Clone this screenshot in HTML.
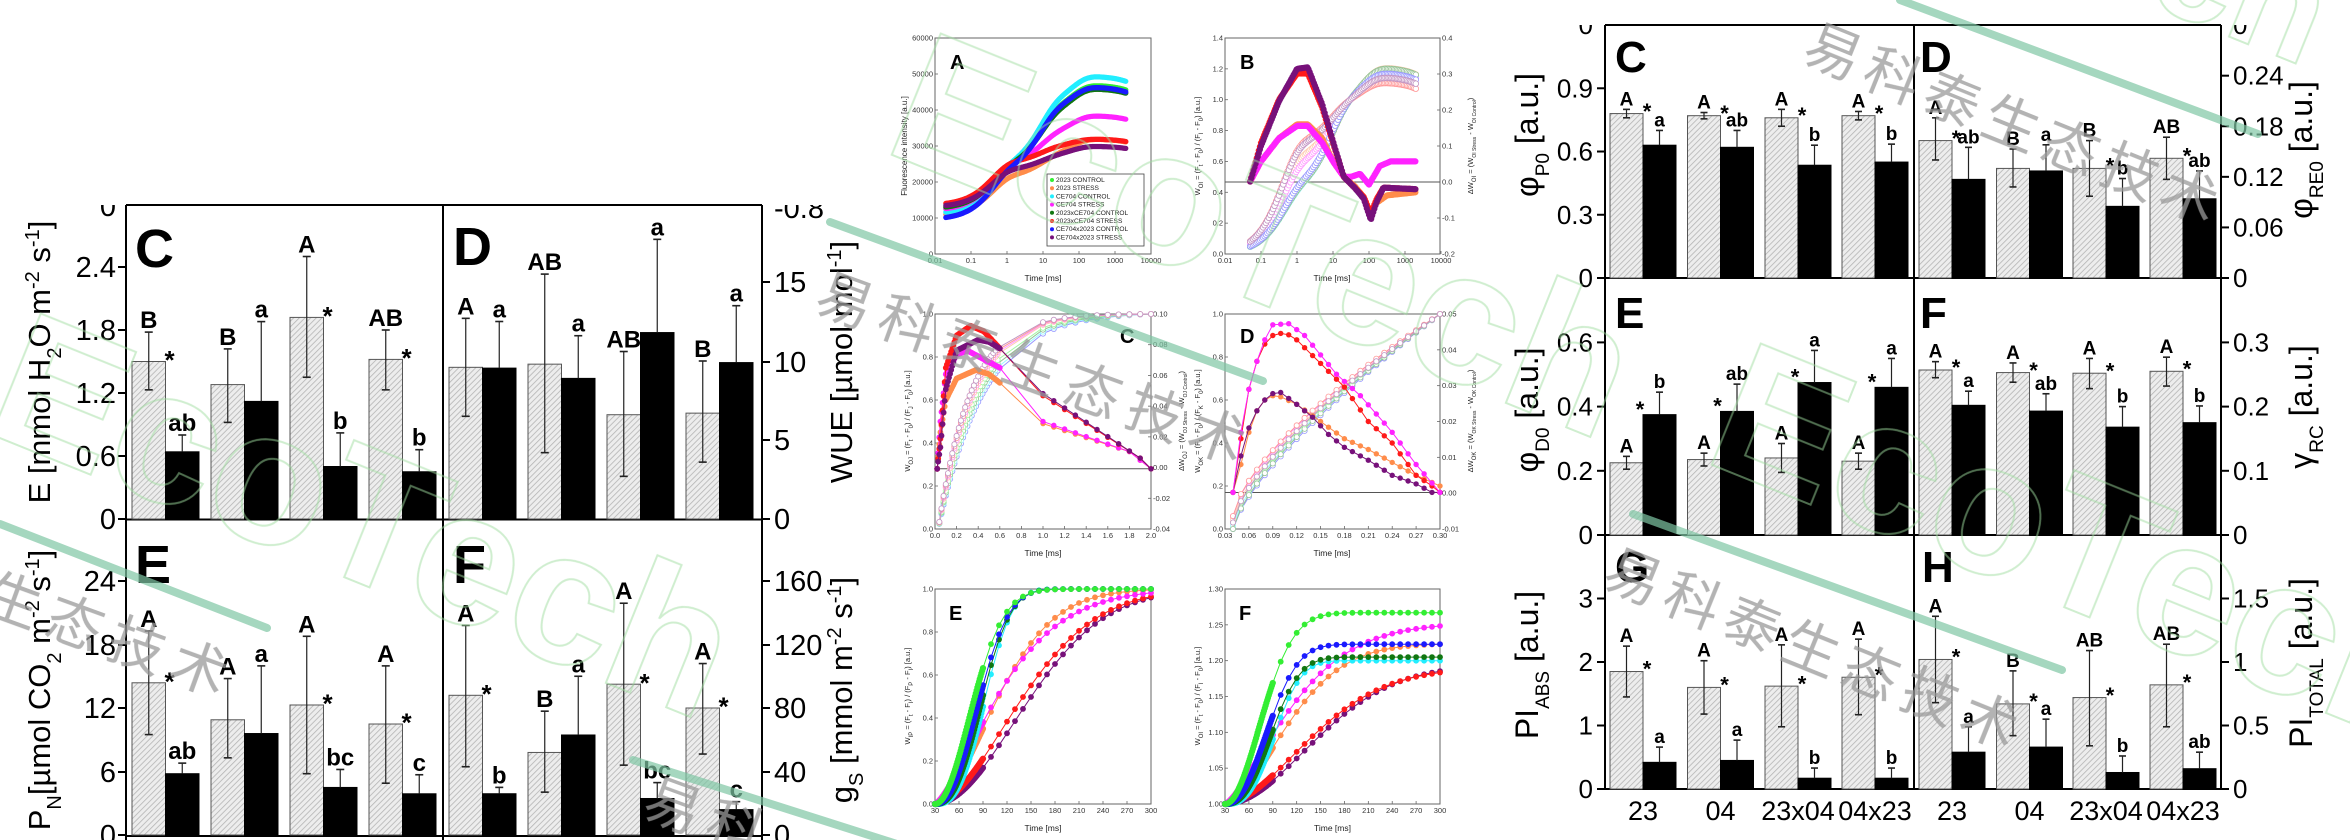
<!DOCTYPE html>
<html><head><meta charset="utf-8">
<style>html,body{margin:0;padding:0;background:#fff}svg{display:block}</style>
</head><body>
<svg id="s" xmlns="http://www.w3.org/2000/svg" width="2350" height="840" viewBox="0 0 2350 840" font-family="Liberation Sans, Arial, sans-serif">
<defs>
<pattern id="h" width="4" height="4" patternUnits="userSpaceOnUse" patternTransform="rotate(45)"><rect width="4" height="4" fill="#ededed"/><line x1="0" y1="0" x2="0" y2="4" stroke="#b4b4b4" stroke-width="1.6"/></pattern>
<clipPath id="cl1"><rect x="0" y="205" width="2350" height="640"/></clipPath>
<clipPath id="cl2"><rect x="0" y="25" width="2350" height="820"/></clipPath>
</defs>
<rect width="2350" height="840" fill="#fff"/>
<g id="g"></g>
</svg>
<script>
let o='';
function T(x,y,s,sz,ex){o+=`<text x="${x}" y="${y}" font-size="${sz}" ${ex||''}>${s}</text>`;}
function L(x1,y1,x2,y2,w,c){o+=`<line x1="${x1}" y1="${y1}" x2="${x2}" y2="${y2}" stroke="${c||'#000'}" stroke-width="${w||1}"/>`;}
function R(x,y,w,h,f,s,sw){o+=`<rect x="${x}" y="${y}" width="${w}" height="${h}" fill="${f}" stroke="${s||'none'}" stroke-width="${sw||1}"/>`;}
const M='text-anchor="middle"', E='text-anchor="end"', B='font-weight="bold"';

function bars(p){
 p.data.forEach((d,i)=>{
  const [g,gl,gh,b,bh,gL,st,bL]=d; const gx=p.xs[i], bx=gx+p.bw;
  const yg=p.y0-g*p.k, yb=p.y0-b*p.k;
  R(gx,yg,p.bw,g*p.k,'url(#h)','#555',1);
  R(bx,yb,p.bw,b*p.k,'#000','#000',1);
  const cx=gx+p.bw/2, ygh=p.y0-gh*p.k, ygl=p.y0-gl*p.k;
  L(cx,ygh,cx,ygl,1.2,'#222');L(cx-p.cap,ygh,cx+p.cap,ygh,1.6,'#222');L(cx-p.cap,ygl,cx+p.cap,ygl,1.6,'#222');
  const bc=bx+p.bw/2, ybh=p.y0-bh*p.k;
  L(bc,ybh,bc,yb,1.2,'#222');L(bc-p.cap,ybh,bc+p.cap,ybh,1.6,'#222');
  T(cx,ygh-4,gL,p.ls,M+' '+B);
  T(bc,ybh-4,bL,p.ls,M+' '+B);
  if(st){ if(p.mode=='b') T(bx-3,yb-11+0.6*p.ss,'*',p.ss,M+' '+B); else T(gx+p.bw+4,yg-8+0.6*p.ss,'*',p.ss,M+' '+B);}
 });
}
function sub(s,sz){return `<tspan baseline-shift="sub" font-size="${sz}">${s}</tspan>`;}
function sup(s,sz){return `<tspan baseline-shift="super" font-size="${sz}">${s}</tspan>`;}
function VT(x,y,content,sz,ex){o+=`<text transform="translate(${x},${y}) rotate(-90)" text-anchor="middle" font-size="${sz}" ${ex||''}>${content}</text>`;}

/* ================= LEFT FIGURE ================= */
L(126,205,762,205,2);L(126,205,126,840,2);L(443,205,443,840,2);L(762,205,762,840,2);L(126,519.5,762,519.5,2);L(126,836,762,836,2);
[[0,519],[0.6,456],[1.2,393],[1.8,330],[2.4,267]].forEach(([v,y])=>{L(118,y,126,y,2);T(116,y+10,String(v),29,E);});
o+='<g clip-path="url(#cl1)">';T(116,216,'0',29,E);T(774,218,'-0.8',29);o+='</g>';
[[0,835],[6,772],[12,708],[18,645],[24,581]].forEach(([v,y])=>{L(118,y,126,y,2);T(116,y+10,String(v),29,E);});
[[0,519],[5,440],[10,362],[15,282]].forEach(([v,y])=>{L(762,y,770,y,2);T(774,y+10,String(v),29);});
[[0,835],[40,772],[80,708],[120,645],[160,581]].forEach(([v,y])=>{L(762,y,770,y,2);T(774,y+10,String(v),29);});
VT(50,362,'E [mmol H'+sub('2',20)+'O m'+sup('-2',20)+' s'+sup('-1',20)+']',31);
VT(50,690,'P'+sub('N',20)+'[µmol CO'+sub('2',20)+' m'+sup('-2',20)+' s'+sup('-1',20)+']',31);
VT(852,362,'WUE [µmol mol'+sup('-1',20)+']',31);
VT(852,690,'g'+sub('S',20)+' [mmol m'+sup('-2',20)+' s'+sup('-1',20)+']',31);
T(135,267,'C',54,B);T(453,265,'D',54,B);T(135,583,'E',54,B);T(453,583,'F',54,B);
const xsL=[132,211,290,369], xsD=[449,528,607,686];
bars({xs:xsL,bw:33.5,y0:519,k:105,cap:4,ls:24,ss:26,mode:'g',data:[
 [1.50,1.23,1.78,0.64,0.80,'B',1,'ab'],[1.28,0.92,1.62,1.12,1.88,'B',0,'a'],[1.92,1.35,2.50,0.50,0.82,'A',1,'b'],[1.52,1.23,1.80,0.45,0.66,'AB',1,'b']]});
bars({xs:xsD,bw:33.5,y0:519,k:15.8,cap:4,ls:24,ss:26,mode:'g',data:[
 [9.6,6.5,12.7,9.55,12.5,'A',0,'a'],[9.8,4.2,15.5,8.9,11.6,'AB',0,'a'],[6.6,2.7,10.6,11.8,17.7,'AB',0,'a'],[6.7,3.6,10.0,9.9,13.5,'B',0,'a']]});
bars({xs:xsL,bw:33.5,y0:835,k:10.57,cap:4,ls:24,ss:26,mode:'g',data:[
 [14.4,9.5,19.3,5.8,6.8,'A',1,'ab'],[10.9,7.3,14.8,9.6,16.0,'A',0,'a'],[12.3,5.8,18.8,4.5,6.2,'A',1,'bc'],[10.5,4.9,16.0,3.9,5.7,'A',1,'c']]});
bars({xs:xsD,bw:33.5,y0:835,k:1.5875,cap:4,ls:24,ss:26,mode:'g',data:[
 [88,43,132,26,30,'A',1,'b'],[52,27,78,63,100,'B',0,'a'],[95,44,146,23,33,'A',1,'bc'],[80,51,108,16,21,'A',1,'c']]});

/* ================= RIGHT FIGURE ================= */
L(1605,25,2221,25,2);L(1605,25,1605,789,2);L(1914,25,1914,789,2);L(2221,25,2221,789,2);
L(1605,278,2221,278,2);L(1605,535,2221,535,2);L(1605,789,2221,789,2);
function ytL(vals,y0,k){vals.forEach(v=>{const y=y0-v*k;L(1597,y,1605,y,2);T(1593,y+9,String(v),26,E);});}
function ytR(vals,y0,k){vals.forEach(v=>{const y=y0-v*k;L(2221,y,2229,y,2);T(2233,y+9,String(v),26);});}
ytL([0,0.3,0.6,0.9],278,210.8);ytL([0,0.2,0.4,0.6],535,321);ytL([0,1,2,3],789,63.5);
ytR([0,0.06,0.12,0.18,0.24],278,843);ytR([0,0.1,0.2,0.3],535,642);ytR([0,0.5,1,1.5],789,127);
o+='<g clip-path="url(#cl2)">';T(1593,34,'0',26,E);T(2233,34,'0',26);o+='</g>';
VT(1538,135,'φ'+sub('P0',19)+' [a.u.]',32);
VT(1538,410,'φ'+sub('D0',19)+' [a.u.]',32);
VT(1538,665,'PI'+sub('ABS',19)+' [a.u.]',32);
VT(2312,150,'φ'+sub('RE0',19)+' [a.u.]',32);
VT(2312,407,'γ'+sub('RC',19)+' [a.u.]',32);
VT(2312,663,'PI'+sub('TOTAL',19)+' [a.u.]',32);
T(1615,72,'C',44,B);T(1920,72,'D',44,B);T(1615,328,'E',44,B);T(1920,328,'F',44,B);T(1615,582,'G',44,B);T(1922,582,'H',44,B);
const xsC=[1610,1687.5,1765,1842], xsR=[1919,1996.5,2073,2150];
['23','04','23x04','04x23'].forEach((s,i)=>{T(xsC[i]+33,820,s,27,M);T(xsR[i]+33,820,s,27,M);});
bars({xs:xsC,bw:33,y0:278,k:210.8,cap:3.5,ls:19,ss:22,mode:'g',data:[
 [0.78,0.76,0.80,0.63,0.70,'A',1,'a'],[0.77,0.755,0.785,0.62,0.70,'A',1,'ab'],[0.76,0.72,0.80,0.535,0.63,'A',1,'b'],[0.77,0.75,0.79,0.55,0.635,'A',1,'b']]});
bars({xs:xsR,bw:33,y0:278,k:843,cap:3.5,ls:19,ss:22,mode:'g',data:[
 [0.163,0.14,0.19,0.117,0.155,'A',1,'ab'],[0.13,0.108,0.153,0.127,0.158,'B',0,'a'],[0.13,0.097,0.163,0.085,0.118,'B',1,'b'],[0.142,0.117,0.167,0.094,0.127,'AB',1,'ab']]});
bars({xs:xsC,bw:33,y0:535,k:321,cap:3.5,ls:19,ss:22,mode:'b',data:[
 [0.225,0.205,0.245,0.375,0.445,'A',1,'b'],[0.235,0.215,0.255,0.385,0.47,'A',1,'ab'],[0.24,0.195,0.285,0.475,0.575,'A',1,'a'],[0.23,0.205,0.255,0.46,0.55,'A',1,'a']]});
bars({xs:xsR,bw:33,y0:535,k:642,cap:3.5,ls:19,ss:22,mode:'g',data:[
 [0.257,0.245,0.27,0.202,0.224,'A',1,'a'],[0.253,0.238,0.268,0.193,0.22,'A',1,'ab'],[0.252,0.228,0.275,0.168,0.2,'A',1,'b'],[0.255,0.232,0.277,0.175,0.201,'A',1,'b']]});
bars({xs:xsC,bw:33,y0:789,k:63.5,cap:3.5,ls:19,ss:22,mode:'g',data:[
 [1.85,1.45,2.25,0.42,0.66,'A',1,'a'],[1.6,1.18,2.02,0.45,0.77,'A',1,'a'],[1.62,0.98,2.27,0.17,0.33,'A',1,'b'],[1.76,1.17,2.36,0.17,0.33,'A',1,'b']]});
bars({xs:xsR,bw:33,y0:789,k:127,cap:3.5,ls:19,ss:22,mode:'g',data:[
 [1.02,0.68,1.36,0.29,0.49,'A',1,'a'],[0.67,0.42,0.93,0.33,0.55,'B',1,'a'],[0.72,0.34,1.09,0.13,0.26,'AB',1,'b'],[0.82,0.49,1.14,0.16,0.29,'AB',1,'ab']]});

/* ================= MIDDLE PLOTS ================= */
const col={g:'#33ee33',o:'#ff8c4a',c:'#22eeff',m:'#ff22ff',dg:'#117711',r:'#ff1a1a',b:'#1a1aff',p:'#77117a'};
function light(h){const n=parseInt(h.slice(1),16);let r=n>>16,g=(n>>8)&255,b=n&255;r=Math.round(r+(255-r)*0.55);g=Math.round(g+(255-g)*0.55);b=Math.round(b+(255-b)*0.55);return `rgb(${r},${g},${b})`;}
function frame(x0,y0,x1,y1){o+=`<rect x="${x0}" y="${y0}" width="${x1-x0}" height="${y1-y0}" fill="none" stroke="#666" stroke-width="1"/>`;}
function xt(x,yb,lab){L(x,yb,x,yb-3,0.8,'#666');T(x,yb+9,lab,7.5,M+' fill="#333"');}
function ytl(xl,y,lab){L(xl,y,xl+3,y,0.8,'#666');T(xl-2,y+2.5,lab,7.5,E+' fill="#333"');}
function ytr(xr,y,lab){L(xr-3,y,xr,y,0.8,'#666');T(xr+2,y+2.5,lab,7.5,'fill="#333"');}
function poly(pts,c,w){o+=`<polyline points="${pts.map(p=>p[0].toFixed(1)+','+p[1].toFixed(1)).join(' ')}" fill="none" stroke="${c}" stroke-width="${w||1}"/>`;}
function dots(pts,r,fill,stroke){pts.forEach(p=>{o+=`<circle cx="${p[0].toFixed(1)}" cy="${p[1].toFixed(1)}" r="${r}" fill="${fill}"${stroke?` stroke="${stroke}" stroke-width="0.8"`:''}/>`;});}
function interp(arr,x){if(x<=arr[0][0])return arr[0][1];for(let i=1;i<arr.length;i++){if(x<=arr[i][0]){const a=arr[i-1],b=arr[i];return a[1]+(b[1]-a[1])*(x-a[0])/(b[0]-a[0]);}}return arr[arr.length-1][1];}

const AX0=935,AX1=1151,AY0=38,AY1=254;
frame(AX0,AY0,AX1,AY1);
const lx=(t,x0)=>x0+(Math.log10(t)+2)*36;
['0.01','0.1','1','10','100','1000','10000'].forEach((s,i)=>xt(AX0+i*36,AY1,s));
for(let v=0;v<=60000;v+=10000)ytl(AX0,AY1-v/60000*216,String(v));
const Aser=[['g',12000,23000,38000,47000],['o',10500,21000,26000,32000],['c',11000,23000,40000,49500],['m',12000,24000,32000,38500],['dg',12500,23000,37000,46000],['r',13500,25000,29000,32000],['b',9500,22000,38000,46500],['p',13000,23000,26500,30000]];
function Fm(s,t){const [k,F0,Fj,Fi,Fmx]=s;return F0+(Fj-F0)*(1-Math.exp(-t/0.4))+(Fi-Fj)*(1-Math.exp(-t/8))+(Fmx-Fi)*(1-Math.exp(-t/60))-(Fmx-F0)*0.04*(t/2000);}
Aser.forEach(s=>{const pts=[];for(let lt=Math.log10(0.02);lt<=Math.log10(2000);lt+=0.025){const t=Math.pow(10,lt);pts.push([lx(t,AX0),AY1-Fm(s,t)/60000*216]);}dots(pts,2.6,col[s[0]]);});
o+=`<rect x="1047" y="174" width="97" height="72" fill="#fff" stroke="#444" stroke-width="0.8"/>`;
['2023 CONTROL','2023 STRESS','CE704 CONTROL','CE704 STRESS','2023xCE704 CONTROL','2023xCE704 STRESS','CE704x2023 CONTROL','CE704x2023 STRESS'].forEach((s,i)=>{const y=182+i*8.2;o+=`<circle cx="1052" cy="${y-2}" r="2" fill="${col[Aser[i][0]]}"/>`;T(1056,y,s,6.6,'fill="#222"');});
VT(907,146,'Fluorescence intensity [a.u.]',8,'fill="#222"');
T(1043,281,'Time [ms]',8.5,M+' fill="#222"');
T(950,69,'A',20,B);

const BX0=1225,BX1=1440;
frame(BX0,AY0,BX1,AY1);
['0.01','0.1','1','10','100','1000','10000'].forEach((s,i)=>xt(BX0+i*36,AY1,s));
for(let i=0;i<=7;i++)ytl(BX0,AY1-i*0.2/1.4*216,(i*0.2).toFixed(1));
[-0.2,-0.1,0,0.1,0.2,0.3,0.4].forEach(v=>ytr(BX1,AY1-(v+0.2)/0.6*216,v.toFixed(1)));
const BY=v=>AY1-v/1.4*216;
L(BX0,182,BX1,182,1,'#555');
Aser.forEach(s=>{const F0=s[1],F30=Fm(s,30);const pts=[];for(let lt=Math.log10(0.05);lt<=Math.log10(2000);lt+=0.04){const t=Math.pow(10,lt);pts.push([lx(t,BX0),BY((Fm(s,t)-F0)/(F30-F0))]);}dots(pts,2.8,'#fff',light(col[s[0]]));});
const Bd={r:[[-1.3,0.47],[-1,0.72],[-0.5,1.0],[0,1.17],[0.3,1.17],[0.7,0.95],[1,0.72],[1.3,0.5],[1.6,0.43],[1.85,0.37],[2.05,0.26],[2.2,0.35],[2.4,0.43],[3.3,0.42]],
o:[[-1.3,0.47],[-1,0.6],[-0.5,0.75],[0,0.84],[0.3,0.84],[0.7,0.75],[1,0.6],[1.3,0.5],[1.6,0.44],[1.85,0.37],[2.05,0.26],[2.2,0.33],[2.5,0.38],[3.3,0.4]],
m:[[-1.3,0.47],[-1,0.6],[-0.5,0.75],[0,0.83],[0.3,0.83],[0.7,0.72],[1,0.6],[1.3,0.5],[1.5,0.5],[1.75,0.52],[2.0,0.45],[2.3,0.57],[2.6,0.6],[3.3,0.6]],
p:[[-1.3,0.47],[-1,0.7],[-0.5,0.99],[0,1.2],[0.3,1.21],[0.7,0.97],[1,0.73],[1.3,0.5],[1.6,0.43],[1.85,0.36],[2.05,0.22],[2.2,0.33],[2.4,0.43],[3.3,0.42]]};
['o','m','r','p'].forEach(k=>{const pts=[];for(let lt=-1.3;lt<=3.3;lt+=0.03)pts.push([BX0+(lt+2)*36,BY(interp(Bd[k],lt))]);dots(pts,3.1,col[k]);});
VT(1200,146,'W'+sub('OI',6)+' = (F'+sub('t',6)+' - F'+sub('0',6)+') / (F'+sub('I',6)+' - F'+sub('0',6)+') [a.u.]',7.5,'fill="#222"');
VT(1473,146,'ΔW'+sub('OI',6)+' = (W'+sub('OI Stress',5)+' - W'+sub('OI Control',5)+')',7.5,'fill="#222"');
T(1332,281,'Time [ms]',8.5,M+' fill="#222"');
T(1240,69,'B',20,B);

const CY0=314,CY1=529;
frame(AX0,CY0,AX1,CY1);
for(let i=0;i<=10;i++)xt(AX0+i*21.6,CY1,(i*0.2).toFixed(1));
for(let i=0;i<=5;i++)ytl(AX0,CY1-i*0.2*215,(i*0.2).toFixed(1));
[-0.04,-0.02,0,0.02,0.04,0.06,0.08,0.10].forEach(v=>ytr(AX1,CY1-(v+0.04)/0.14*215,v.toFixed(2)));
const CX=t=>AX0+t/2*216, CYv=v=>CY1-v*215;
L(AX0,CYv(0.28),AX1,CYv(0.28),1,'#555');
[['b',0.42],['c',0.4],['dg',0.38],['g',0.36],['o',0.33],['m',0.32],['r',0.31],['p',0.3]].forEach(([k,tau])=>{const f=t=>(1-Math.exp(-(t-0.03)/tau))/(1-Math.exp(-1.97/tau));const pts=[];for(let t=0.04;t<=0.6;t+=0.02)pts.push([CX(t),CYv(f(t))]);for(let t=1.0;t<=2.001;t+=0.1)pts.push([CX(t),CYv(f(t))]);poly(pts,light(col[k]),1);dots(pts,2.6,'#fff',light(col[k]));});
const Cd={r:[[0.02,0.28],[0.05,0.42],[0.1,0.75],[0.2,0.9],[0.33,0.945],[0.45,0.92],[0.6,0.84],[1.0,0.62],[1.9,0.33],[2.0,0.28]],
p:[[0.02,0.28],[0.05,0.38],[0.1,0.65],[0.2,0.83],[0.4,0.88],[0.5,0.87],[0.6,0.84],[1.0,0.63],[1.9,0.33],[2.0,0.28]],
m:[[0.02,0.28],[0.05,0.5],[0.1,0.72],[0.2,0.81],[0.3,0.83],[0.45,0.79],[0.6,0.75],[1.0,0.5],[1.8,0.36],[2.0,0.28]],
o:[[0.02,0.28],[0.05,0.45],[0.1,0.6],[0.2,0.7],[0.38,0.74],[0.5,0.72],[0.6,0.68],[1.0,0.49],[1.8,0.36],[2.0,0.28]]};
['o','m','r','p'].forEach(k=>{const dense=[],sp=[];for(let t=0.02;t<=0.601;t+=0.01)dense.push([CX(t),CYv(interp(Cd[k],t))]);for(let t=1.0;t<=2.001;t+=0.1)sp.push([CX(t),CYv(interp(Cd[k],t))]);poly(dense.concat(sp),col[k],1);dots(dense,2.9,col[k]);dots(sp,2.7,col[k]);});
VT(910,421,'W'+sub('OJ',6)+' = (F'+sub('t',6)+' - F'+sub('0',6)+') / (F'+sub('J',6)+' - F'+sub('0',6)+') [a.u.]',7.5,'fill="#222"');
VT(1184,421,'ΔW'+sub('OJ',6)+' = (W'+sub('OJ Stress',5)+' - W'+sub('OJ Control',5)+')',7.5,'fill="#222"');
T(1043,556,'Time [ms]',8.5,M+' fill="#222"');
T(1120,343,'C',20,B);

frame(BX0,CY0,BX1,CY1);
const DX=t=>BX0+(t-0.03)/0.27*215;
for(let i=0;i<=9;i++){const v=0.03+i*0.03;xt(DX(v),CY1,v.toFixed(2));}
for(let i=0;i<=5;i++)ytl(BX0,CY1-i*0.2*215,(i*0.2).toFixed(1));
[-0.01,0,0.01,0.02,0.03,0.04,0.05].forEach(v=>ytr(BX1,CY1-(v+0.01)/0.06*215,v.toFixed(2)));
L(BX0,CYv(0.17),BX1,CYv(0.17),1,'#555');
[['b',0.74,0],['c',0.72,0.005],['dg',0.72,0],['g',0.71,0.01],['o',0.7,0.015],['m',0.69,0.02],['r',0.68,0.02],['p',0.7,0.01]].forEach(([k,e,off])=>{const pts=[];for(let t=0.04;t<=0.3001;t+=0.01){const w=Math.pow((t-0.04)/0.26,e);pts.push([DX(t),CYv(Math.min(1,w+off*(1-w)*3))]);}poly(pts,light(col[k]),1);dots(pts,2.6,'#fff',light(col[k]));});
const Dd={m:[[0.04,0.17],[0.05,0.45],[0.06,0.65],[0.07,0.78],[0.08,0.88],[0.09,0.95],[0.11,0.955],[0.13,0.9],[0.17,0.72],[0.2,0.62],[0.24,0.45],[0.27,0.3],[0.30,0.17]],
r:[[0.04,0.17],[0.05,0.42],[0.06,0.65],[0.07,0.78],[0.08,0.86],[0.09,0.9],[0.105,0.915],[0.12,0.88],[0.15,0.77],[0.18,0.66],[0.21,0.5],[0.24,0.4],[0.27,0.25],[0.29,0.2],[0.30,0.17]],
p:[[0.04,0.17],[0.05,0.34],[0.06,0.47],[0.07,0.55],[0.08,0.6],[0.09,0.63],[0.1,0.635],[0.12,0.58],[0.14,0.52],[0.16,0.44],[0.18,0.38],[0.21,0.32],[0.24,0.25],[0.27,0.21],[0.29,0.17]],
o:[[0.04,0.17],[0.05,0.3],[0.06,0.45],[0.07,0.55],[0.08,0.6],[0.09,0.62],[0.1,0.615],[0.12,0.58],[0.15,0.5],[0.18,0.42],[0.21,0.37],[0.24,0.31],[0.27,0.25],[0.30,0.2]]};
['o','p','r','m'].forEach(k=>{const pts=[];for(let t=0.04;t<=0.3001;t+=0.01)pts.push([DX(t),CYv(interp(Dd[k],t))]);poly(pts,col[k],1);dots(pts,2.7,col[k]);});
VT(1200,421,'W'+sub('OK',6)+' = (F'+sub('t',6)+' - F'+sub('0',6)+') / (F'+sub('K',6)+' - F'+sub('0',6)+') [a.u.]',7.5,'fill="#222"');
VT(1473,421,'ΔW'+sub('OK',6)+' = (W'+sub('OK Stress',5)+' - W'+sub('OK Control',5)+')',7.5,'fill="#222"');
T(1332,556,'Time [ms]',8.5,M+' fill="#222"');
T(1240,343,'D',20,B);

const EY0=589,EY1=804;
const Wb={g:[60,2],b:[66,2.3],c:[72,2.77],dg:[69,2.5],m:[101,1.41],o:[99,1.68],r:[136,1.76],p:[146,1.9]};
const Fend={g:1.267,m:1.253,b:1.223,o:1.224,dg:1.205,c:1.2,r:1.19,p:1.193};
const wf=(k,t)=>{const [l,kk]=Wb[k];return 1-Math.exp(-Math.pow(Math.max(0,t-30)/l,kk));};
[[AX0,AX1,'E'],[BX0,BX1,'F']].forEach(([x0,x1,nm])=>{
 frame(x0,EY0,x1,EY1);
 const X=t=>x0+(t-30)/270*(x1-x0);
 for(let v=30;v<=300;v+=30)xt(X(v),EY1,String(v));
 let Yf;
 if(nm=='E'){Yf=v=>EY1-v*215;for(let i=0;i<=5;i++)ytl(x0,Yf(i*0.2),(i*0.2).toFixed(1));}
 else{Yf=v=>EY1-(v-1)/0.3*215;for(let i=0;i<=6;i++)ytl(x0,Yf(1+i*0.05),(1+i*0.05).toFixed(2));}
 ['p','r','o','m','c','dg','b','g'].forEach(k=>{
  const val=t=>nm=='E'?wf(k,t):1+(Fend[k]-1)*wf(k,t);
  const dense=[],sp=[];for(let t=30;t<=90;t+=1)dense.push([X(t),Yf(val(t))]);for(let t=100;t<=300;t+=10)sp.push([X(t),Yf(val(t))]);
  poly([dense[dense.length-1]].concat(sp),col[k],1);dots(dense,3.1,col[k]);dots(sp,2.9,col[k]);
 });
 T((x0+x1)/2,831,'Time [ms]',8.5,M+' fill="#222"');
 T(x0+14,620,nm,20,B);
});
VT(910,696,'W'+sub('IP',6)+' = (F'+sub('t',6)+' - F'+sub('I',6)+') / (F'+sub('P',6)+' - F'+sub('I',6)+') [a.u.]',7.5,'fill="#222"');
VT(1200,696,'W'+sub('OI',6)+' = (F'+sub('t',6)+' - F'+sub('0',6)+') / (F'+sub('I',6)+' - F'+sub('0',6)+') [a.u.]',7.5,'fill="#222"');

/* ================= WATERMARKS ================= */
o+='<g opacity="0.5" fill="none" stroke="#9fdc9f" stroke-width="2" font-weight="bold" font-size="190">';
o+='<text transform="translate(-20,430) rotate(22)">EcoTech</text>';
o+='<text transform="translate(880,150) rotate(22)">EcoTech</text>';
o+='<text transform="translate(1700,460) rotate(22)">EcoTech</text>';
o+='<text transform="translate(1990,-60) rotate(22)" font-size="150">Tech</text>';
o+='</g>';
o+='<g opacity="0.7" stroke-linecap="round">';
L(0,524,267,628,8,'#7fc6a4');L(830,222,1263,381,8,'#7fc6a4');L(1633,514,2062,670,8,'#7fc6a4');L(1900,0,2258,134,8,'#7fc6a4');L(633,760,900,845,8,'#7fc6a4');
o+='</g>';
o+='<g fill="#9a9a9a" opacity="0.75" font-family="WenQuanYi Zen Hei, Noto Sans CJK SC, sans-serif" font-size="56">';
o+='<text transform="translate(1800,60) rotate(22)" letter-spacing="8">易科泰生态技术</text>';
o+='<text transform="translate(1600,585) rotate(22)" letter-spacing="8">易科泰生态技术</text>';
o+='<text transform="translate(812,310) rotate(20)" letter-spacing="10">易科泰生态技术</text>';
o+='<text transform="translate(-20,610) rotate(20)" letter-spacing="10">生态技术</text>';
o+='<text transform="translate(640,815) rotate(20)" letter-spacing="10">易科</text>';
o+='</g>';

document.getElementById('g').innerHTML=o;
</script>
</body></html>
